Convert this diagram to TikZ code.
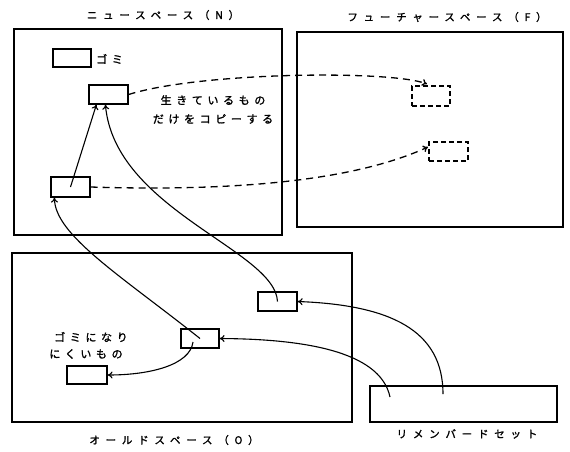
\documentclass[tikz,border=0pt]{standalone}
\usepackage{fontspec}
\usetikzlibrary{arrows.meta,calc}
\newfontfamily\jpt[LetterSpace=55,FakeBold=1.5]{Noto Sans CJK JP}
\newfontfamily\jpl[LetterSpace=42,FakeBold=1.5]{Noto Sans CJK JP}
\begin{document}
\begin{tikzpicture}[x=1pt,y=-1pt,
  space/.style={draw,line width=1.3pt,inner sep=0pt},
  cell/.style={draw,line width=1.2pt,inner sep=0pt,minimum width=39pt,minimum height=19pt},
  ghost/.style={cell,dash pattern=on 5pt off 3pt},
  ttl/.style={font=\jpt\fontsize{10.5}{12}\selectfont,inner sep=0pt},
  lbl/.style={font=\jpl\fontsize{11}{13}\selectfont,inner sep=0pt},
  link/.style={line width=1.1pt,-{To[length=5pt,width=7pt]}},
  copy/.style={link,line width=1.3pt,dash pattern=on 7pt off 5pt}]
\useasboundingbox (0,0) rectangle (570,451);
% spaces
\node[space,minimum width=268pt,minimum height=206pt] (N) at (148,132) {};
\node[space,minimum width=266pt,minimum height=195pt] (F) at (430,129.5) {};
\node[space,minimum width=340pt,minimum height=169pt] (O) at (182,337.5) {};
\node[space,minimum width=187pt,minimum height=36pt] (R) at (463.5,404) {};
% titles
\node[ttl] (tN) at (163,15) {ニュースペース（N）};
\node[ttl] (tF) at (447,17) {フューチャースペース（F）};
\node[ttl] (tO) at (174,440) {オールドスペース（O）};
\node[ttl] (tR) at (467,434) {リメンバードセット};
% cells
\node[cell,minimum width=38pt,minimum height=18pt] (G) at (72,58) {};
\node[lbl,anchor=west] (tG) at (96,59) {ゴミ};
\node[cell] (A) at (108.5,94.5) {};
\node[cell,minimum height=20pt] (B) at (70.5,187) {};
\node[ghost,minimum width=38pt,minimum height=20pt] (F1) at (431,96) {};
\node[ghost] (F2) at (448.5,151.5) {};
\node[cell] (C) at (277.5,301.5) {};
\node[cell,minimum width=38pt] (D) at (200,338.5) {};
\node[cell,minimum width=40pt,minimum height=18pt] (E) at (87,375) {};
% labels
\node[lbl] (l1) at (213,100) {生きているもの};
\node[lbl] (l2) at (213,119) {だけをコピーする};
\node[lbl] (l3) at (91,337) {ゴミになり};
\node[lbl] (l4) at (86,354) {にくいもの};
% coordinates
\coordinate (Ain1) at ($(A.south west)+(8,0)$);
\coordinate (Ain2) at ($(A.south west)+(17,0)$);
\coordinate (Bin) at ($(B.south west)+(4,0)$);
\coordinate (Rs1) at (390,397);
\coordinate (Rs2) at (443,394);
\coordinate (Dl) at (193,342);
\coordinate (F1t) at (427,84);
\coordinate (F2t) at (428,147);
% solid links
\draw[link] (B.center) -- (Ain1);
\draw[link] (C.center) .. controls (275,250) and (115,210) .. (Ain2);
\draw[link] (D.center) .. controls (120,275) and (55,235) .. (Bin);
\draw[link] (Dl) .. controls (190,365) and (150,375) .. (E.east);
\draw[link] (Rs1) .. controls (380,350) and (300,339) .. (D.east);
\draw[link] (Rs2) .. controls (443,330) and (390,305) .. (C.east);
% dashed copies
\draw[copy] (A.east) .. controls (200,72) and (390,70) .. (F1t);
\draw[copy] (B.east) .. controls (250,192) and (360,178) .. (F2t);
\end{tikzpicture}
\end{document}
